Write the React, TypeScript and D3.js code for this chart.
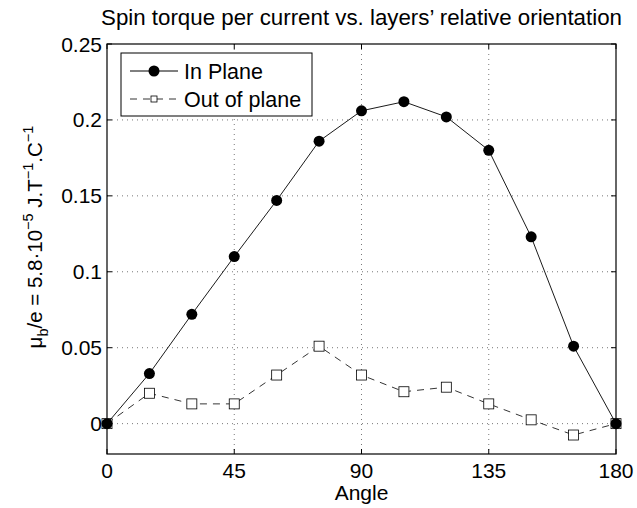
import React, { useEffect, useRef } from 'react';
import * as d3 from 'd3';

const angles = [0, 15, 30, 45, 60, 75, 90, 105, 120, 135, 150, 165, 180];
const inPlane = [0, 0.033, 0.072, 0.110, 0.147, 0.186, 0.206, 0.212, 0.202, 0.180, 0.123, 0.051, 0];
const outOfPlane = [0, 0.020, 0.013, 0.013, 0.032, 0.051, 0.032, 0.021, 0.024, 0.013, 0.0025, -0.0075, 0];
const xTicks = [0, 45, 90, 135, 180];
const yTicks = [0, 0.05, 0.1, 0.15, 0.2, 0.25];
const seriesNames = ['In Plane', 'Out of plane'];

const FONT = 'Liberation Sans, Arial, Helvetica, sans-serif';
const FS = '21.5px';
const TICK_FS = '21px';

const App: React.FC = () => {
  const ref = useRef<SVGSVGElement>(null);

  useEffect(() => {
    if (!ref.current) return;
    const svg = d3.select(ref.current);
    svg.selectAll('*').remove();

    const margin = { top: 44, right: 21, bottom: 54, left: 107 };
    const W = 637, H = 508;
    const width = W - margin.left - margin.right;
    const height = H - margin.top - margin.bottom;

    const x = d3.scaleLinear().domain([0, 180]).range([0, width]);
    const y = d3.scaleLinear().domain([-0.02, 0.25]).range([height, 0]);

    const g = svg.append('g').attr('transform', `translate(${margin.left},${margin.top})`);

    // dotted grid
    xTicks.slice(1, -1).forEach(t => {
      g.append('line').attr('x1', x(t)).attr('x2', x(t)).attr('y1', 0).attr('y2', height)
        .attr('stroke', '#555').attr('stroke-width', 0.8).attr('stroke-dasharray', '1,4');
    });
    yTicks.slice(0, -1).forEach(t => {
      g.append('line').attr('x1', 0).attr('x2', width).attr('y1', y(t)).attr('y2', y(t))
        .attr('stroke', '#555').attr('stroke-width', 0.8).attr('stroke-dasharray', '1,4');
    });

    // box
    g.append('rect').attr('x', 0).attr('y', 0).attr('width', width).attr('height', height)
      .attr('fill', 'none').attr('stroke', '#000').attr('stroke-width', 1.2);

    // inward ticks on all sides
    const tl = 5;
    xTicks.forEach(t => {
      g.append('line').attr('x1', x(t)).attr('x2', x(t)).attr('y1', height).attr('y2', height - tl).attr('stroke', '#000');
      g.append('line').attr('x1', x(t)).attr('x2', x(t)).attr('y1', 0).attr('y2', tl).attr('stroke', '#000');
      g.append('text').attr('x', x(t)).attr('y', height + 24).attr('text-anchor', 'middle')
        .style('font-family', FONT).style('font-size', TICK_FS).text(String(t));
    });
    yTicks.forEach(t => {
      g.append('line').attr('x1', 0).attr('x2', tl).attr('y1', y(t)).attr('y2', y(t)).attr('stroke', '#000');
      g.append('line').attr('x1', width).attr('x2', width - tl).attr('y1', y(t)).attr('y2', y(t)).attr('stroke', '#000');
      g.append('text').attr('x', -5).attr('y', y(t) + 7.5).attr('text-anchor', 'end')
        .style('font-family', FONT).style('font-size', TICK_FS).text(d3.format('~g')(t));
    });

    const line = d3.line<number>().x((_, i) => x(angles[i])).y(d => y(d));

    // out of plane
    g.append('path').datum(outOfPlane).attr('d', line).attr('fill', 'none')
      .attr('stroke', '#000').attr('stroke-width', 0.8).attr('stroke-dasharray', '7,6');
    g.selectAll('rect.sq').data(outOfPlane).enter().append('rect')
      .attr('x', (_, i) => x(angles[i]) - 5).attr('y', d => y(d) - 5)
      .attr('width', 10).attr('height', 10).attr('fill', '#fff').attr('stroke', '#000').attr('stroke-width', 0.8);

    // in plane
    g.append('path').datum(inPlane).attr('d', line).attr('fill', 'none')
      .attr('stroke', '#000').attr('stroke-width', 0.9);
    g.selectAll('circle.pt').data(inPlane).enter().append('circle')
      .attr('cx', (_, i) => x(angles[i])).attr('cy', d => y(d)).attr('r', 5.5).attr('fill', '#000');

    // legend
    const lg = svg.append('g');
    lg.append('rect').attr('x', 121).attr('y', 53).attr('width', 191).attr('height', 63)
      .attr('fill', '#fff').attr('stroke', '#000').attr('stroke-width', 1);
    lg.append('line').attr('x1', 130).attr('x2', 178).attr('y1', 71).attr('y2', 71).attr('stroke', '#000');
    lg.append('circle').attr('cx', 154).attr('cy', 71).attr('r', 5.5).attr('fill', '#000');
    lg.append('line').attr('x1', 130).attr('x2', 178).attr('y1', 99).attr('y2', 99)
      .attr('stroke', '#000').attr('stroke-width', 0.8).attr('stroke-dasharray', '7,6').attr('stroke-dashoffset', 0);
    lg.append('rect').attr('x', 151).attr('y', 96).attr('width', 6).attr('height', 6)
      .attr('fill', '#fff').attr('stroke', '#000').attr('stroke-width', 0.8);
    [71, 99].forEach((yy, i) => {
      lg.append('text').attr('x', 184).attr('y', yy + 7.5)
        .style('font-family', FONT).style('font-size', FS).text(seriesNames[i]);
    });

    // title
    svg.append('text').attr('x', 361.5).attr('y', 25).attr('text-anchor', 'middle')
      .style('font-family', FONT).style('font-size', '22.3px')
      .text('Spin torque per current vs. layers\u2019 relative orientation');

    // x label
    svg.append('text').attr('x', 361.5).attr('y', 500).attr('text-anchor', 'middle')
      .style('font-family', FONT).style('font-size', TICK_FS).text('Angle');

    // y label
    const yl = svg.append('text').attr('transform', `translate(42,237) rotate(-90)`)
      .attr('text-anchor', 'middle').style('font-family', FONT).style('font-size', '20.5px');
    yl.append('tspan').text('\u03bc');
    yl.append('tspan').attr('dy', 6).style('font-size', '14.5px').text('b');
    yl.append('tspan').attr('dy', -6).text('/e = 5.8\u00b710');
    yl.append('tspan').attr('dy', -9).style('font-size', '14.5px').text('\u22125');
    yl.append('tspan').attr('dy', 9).text(' J.T');
    yl.append('tspan').attr('dy', -9).style('font-size', '14.5px').text('\u22121');
    yl.append('tspan').attr('dy', 9).text('.C');
    yl.append('tspan').attr('dy', -9).style('font-size', '14.5px').text('\u22121');
  }, []);

  return <svg ref={ref} width={637} height={508} style={{ display: 'block', position: 'absolute', left: 0, top: 0, background: '#fff' }} />;
};

export default App;
